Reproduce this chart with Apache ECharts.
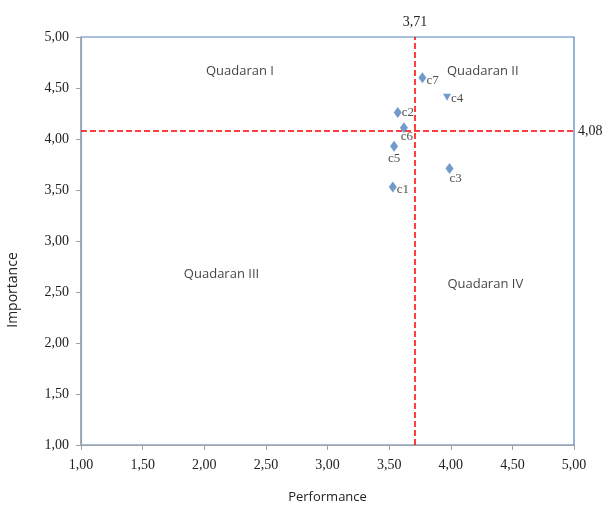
<!DOCTYPE html>
<html><head><meta charset="utf-8">
<script src="https://cdn.jsdelivr.net/npm/echarts@6/dist/echarts.min.js"></script>
<style>html,body{margin:0;padding:0;background:#fff}#c{width:606px;height:507px}</style>
</head><body><div id="c"></div>
<script>
const names = ['c1','c2','c3','c4','c5','c6','c7'];
const performance = [3.53, 3.57, 3.99, 3.97, 3.54, 3.62, 3.77];
const importance  = [3.53, 4.26, 3.71, 4.41, 3.93, 4.11, 4.60];
const meanPerformance = 3.71;
const meanImportance = 4.08;
const quadrantNames = ['Quadaran I','Quadaran II','Quadaran III','Quadaran IV'];
const quadrantX = [2.29, 4.26, 2.14, 4.28];
const quadrantY = [4.66, 4.66, 2.67, 2.58];

const fmt = v => v.toFixed(2).replace('.', ',');
const serif = 'Liberation Serif';
const labelStyle = {
  c1: {position:'right', offset:[-2,3]},
  c2: {position:'right', offset:[-2,0]},
  c3: {position:'bottom', offset:[6,-4]},
  c4: {position:'right', offset:[-2,1]},
  c5: {position:'bottom', offset:[0,-2]},
  c6: {position:'bottom', offset:[3,-5]},
  c7: {position:'right', offset:[-2,3]}
};
const pts = names.map((n,i) => ({
  name: n,
  value: [performance[i], importance[i]],
  symbol: n === 'c4' ? 'triangle' : 'diamond',
  symbolRotate: n === 'c4' ? 180 : 0,
  symbolSize: n === 'c4' ? [8,7] : [8,11],
  label: Object.assign({show:true, formatter:n, fontFamily:serif, fontSize:13, color:'#222', distance:2}, labelStyle[n])
}));
const qpts = quadrantNames.map((n,i) => ({name:n, value:[quadrantX[i], quadrantY[i]]}));

const chart = echarts.init(document.getElementById('c'));
chart.setOption({
  animation:false,
  grid:{left:81, right:32, top:37, bottom:62, show:true, borderColor:'#4f81bd', borderWidth:1.2,
        containLabel:false, outerBoundsMode:'none'},
  xAxis:{type:'value', min:1, max:5, interval:0.5,
    name:'Performance', nameLocation:'middle', nameGap:46,
    nameTextStyle:{fontFamily:'Open Sans', fontSize:13, color:'#222'},
    axisLine:{show:true, onZero:false, lineStyle:{color:'#a0a0a0', width:1.2}},
    axisTick:{show:true, length:5, lineStyle:{color:'#a0a0a0'}},
    axisLabel:{formatter:fmt, fontFamily:serif, fontSize:14, color:'#222', margin:13},
    splitLine:{show:false}},
  yAxis:{type:'value', min:1, max:5, interval:0.5,
    name:'Importance', nameLocation:'middle', nameGap:61,
    nameTextStyle:{fontFamily:'Open Sans', fontSize:14, color:'#222', padding:[0,98,0,0]},
    axisLine:{show:true, onZero:false, lineStyle:{color:'#a0a0a0', width:1.2}},
    axisTick:{show:true, length:5, lineStyle:{color:'#a0a0a0'}},
    axisLabel:{formatter:fmt, fontFamily:serif, fontSize:14, color:'#222', margin:12},
    splitLine:{show:false}},
  series:[
    {type:'scatter', data:pts, itemStyle:{color:'#4f81bd'}, z:5,
     markLine:{silent:true, symbol:'none',
       lineStyle:{color:'#ff0000', type:[6,3], width:1.5},
       data:[
         {xAxis:meanPerformance, label:{show:true, position:'end', formatter:fmt(meanPerformance), fontFamily:serif, fontSize:14, color:'#222', distance:8}},
         {yAxis:meanImportance, label:{show:true, position:'end', formatter:fmt(meanImportance), fontFamily:serif, fontSize:14, color:'#222', distance:4}}
       ]}},
    {type:'scatter', data:qpts, symbolSize:0, silent:true,
     label:{show:true, position:'inside', formatter:'{b}', fontFamily:'Open Sans', fontSize:13, color:'#111'}}
  ]
});
</script></body></html>
